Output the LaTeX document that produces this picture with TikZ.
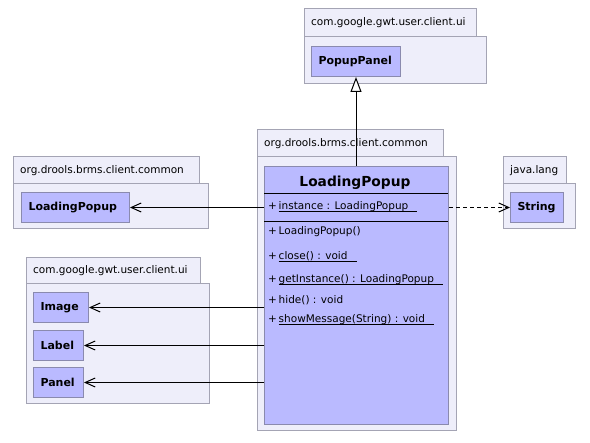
\documentclass[tikz,border=0pt]{standalone}
\usepackage{fontspec}
\setmainfont{DejaVu Sans}
\usetikzlibrary{arrows.meta}
\definecolor{pkgfill}{HTML}{EEEEFA}
\definecolor{pkgline}{HTML}{A4A4B4}
\definecolor{clsfill}{HTML}{BABAFF}
\definecolor{clsline}{HTML}{8A8AAE}
\newcommand\ulx[1]{\setbox0\hbox{#1}\rlap{\rule[-2.2pt]{\wd0}{0.7pt}}\box0}
\begin{document}
\begin{tikzpicture}[x=1pt,y=-1pt,
  pkg/.style={draw=pkgline, fill=pkgfill, line width=1pt},
  pkglabel/.style={anchor=west, inner sep=0pt, font=\fontsize{10.5}{12}\selectfont},
  box/.style={draw=clsline, fill=clsfill, line width=1pt, anchor=north west, inner xsep=7pt, inner ysep=0pt, minimum height=30pt, align=left, font=\bfseries\fontsize{11}{12}\selectfont},
  member/.style={anchor=west, inner sep=0pt, font=\fontsize{10.5}{12}\selectfont},
  assoc/.style={draw, line width=1pt, -{Straight Barb[length=10pt,width=9pt]}},
  dep/.style={assoc, dash pattern=on 4pt off 3pt},
  inherit/.style={draw, line width=1pt, -{Triangle[length=15pt,width=11pt,fill=white]}}
]
\useasboundingbox (0,0) rectangle (590,443);
\fill[white] (0,0) rectangle (590,443);

% packages
\path[pkg] (304,9) rectangle (476,37);
\path[pkg] (304,37) rectangle (486,84);
\node[pkglabel] (p1l) at (311,23) {com.google.gwt.user.client.ui};

\path[pkg] (257,130) rectangle (443,157);
\path[pkg] (257,157) rectangle (456,431);
\node[pkglabel] (p2l) at (264,144) {org.drools.brms.client.common};

\path[pkg] (13,157) rectangle (199,184);
\path[pkg] (13,184) rectangle (208,229);
\node[pkglabel] (p3l) at (20,171) {org.drools.brms.client.common};

\path[pkg] (26,258) rectangle (200,284);
\path[pkg] (26,284) rectangle (209,404);
\node[pkglabel] (p4l) at (33,271) {com.google.gwt.user.client.ui};

\path[pkg] (503,157) rectangle (566,184);
\path[pkg] (503,184) rectangle (575,229);
\node[pkglabel] (p5l) at (510,171) {java.lang};

% small classes
\node[box, text width=75pt] (popup) at (311,46) {PopupPanel};
\node[box, text width=94pt] (lp) at (21,192) {LoadingPopup};
\node[box, text width=41pt] (img) at (33,292) {Image};
\node[box, text width=36pt] (lbl) at (33,330) {Label};
\node[box, text width=36pt] (pnl) at (33,367) {Panel};
\node[box, text width=39pt] (str) at (510,192) {String};

% main class
\node[draw=clsline, fill=clsfill, line width=1pt, anchor=north west, minimum width=184pt, minimum height=258pt, inner sep=0pt] (cls) at (264,166) {};
\node[font=\bfseries\fontsize{13.8}{15}\selectfont, inner sep=0pt] (title) at (355,183) {LoadingPopup};
\draw[line width=1pt] (264,194) -- (448,194);
\draw[line width=1pt] (264,222) -- (448,222);
\node[member] (m1) at (268,207) {+\,\ulx{instance : LoadingPopup\hspace{9pt}}};
\node[member] (m2) at (268,232) {+\,LoadingPopup()};
\node[member] (m3) at (268,257) {+\,\ulx{close() : void\hspace{9pt}}};
\node[member] (m4) at (268,280) {+\,\ulx{getInstance() : LoadingPopup\hspace{9pt}}};
\node[member] (m5) at (268,300) {+\,hide() : void};
\node[member] (m6) at (268,320) {+\,\ulx{showMessage(String) : void\hspace{9pt}}};

% connectors
\draw[inherit] (cls.north -| popup.south) -- (popup.south);
\draw[assoc] (cls.west |- lp.east) -- (lp.east);
\draw[dep] (cls.east |- str.west) -- (str.west);
\draw[assoc] (cls.west |- img.east) -- (img.east);
\draw[assoc] (cls.west |- lbl.east) -- (lbl.east);
\draw[assoc] (cls.west |- pnl.east) -- (pnl.east);
\end{tikzpicture}
\end{document}
